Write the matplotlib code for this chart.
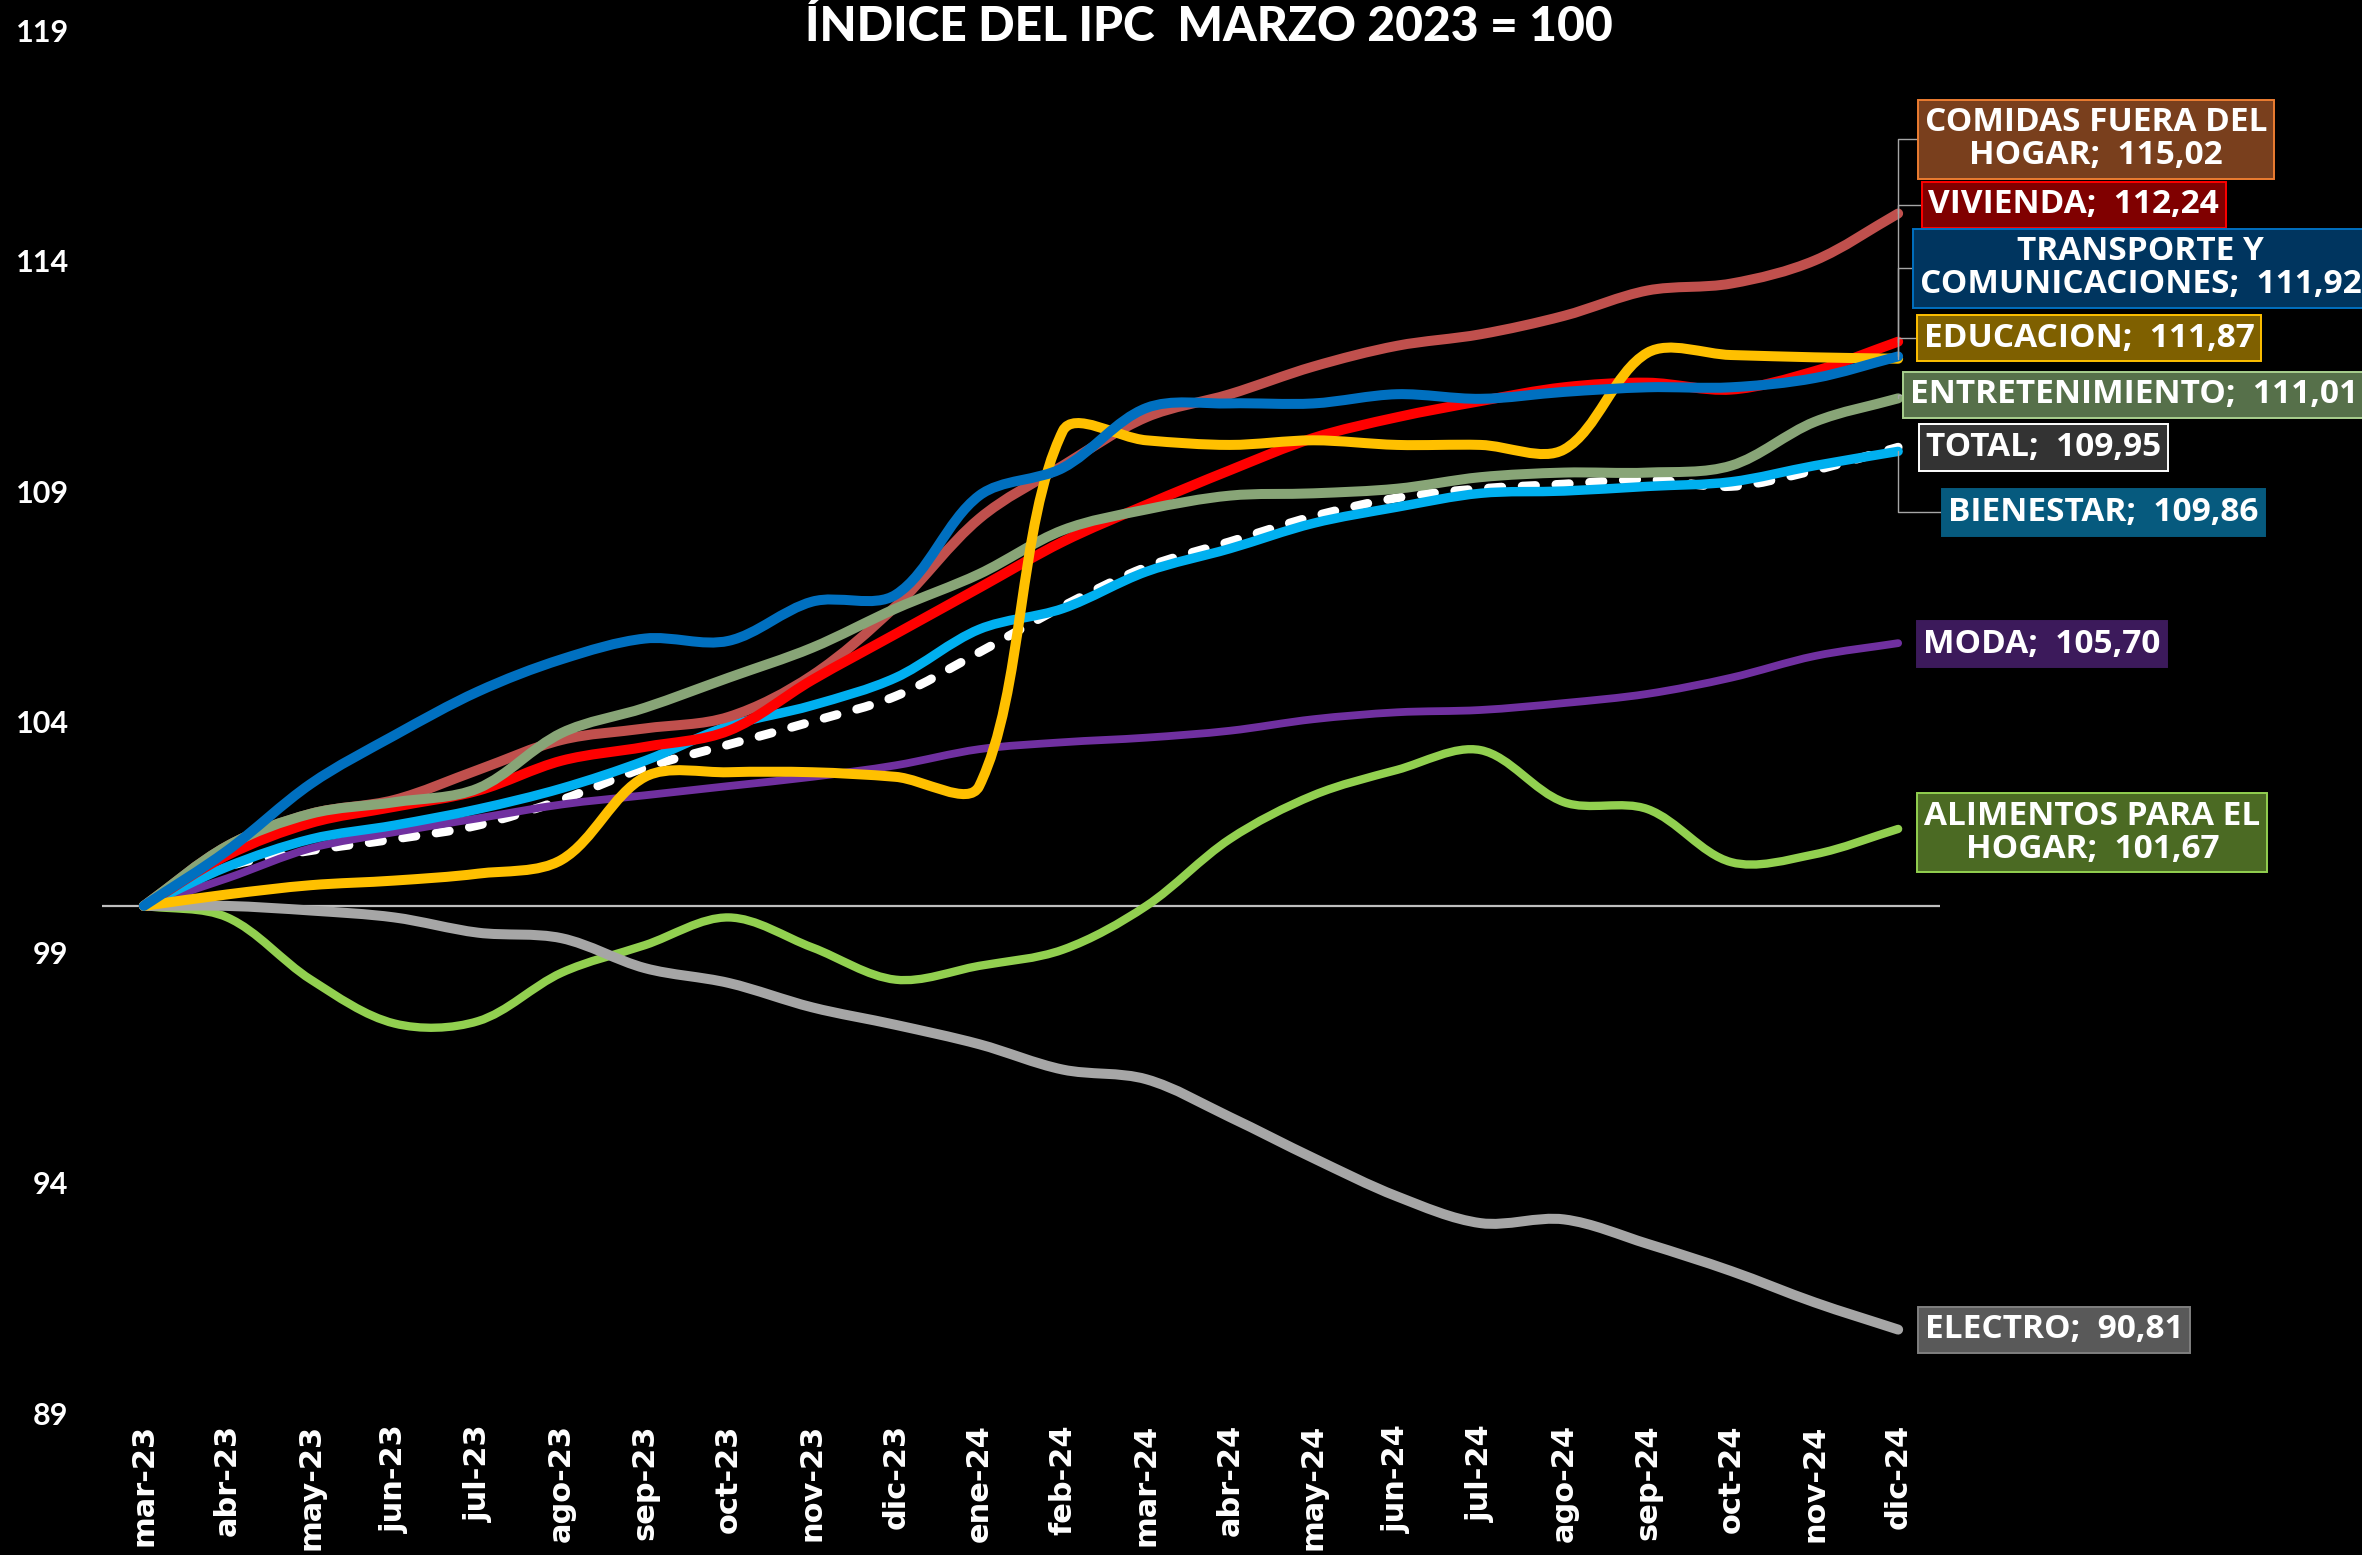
import matplotlib
matplotlib.use("Agg")
import matplotlib.pyplot as plt
from matplotlib.path import Path
from matplotlib.patches import PathPatch
import numpy as np

#-- Datos (indice, marzo 2023 = 100)
meses = ['mar-23', 'abr-23', 'may-23', 'jun-23', 'jul-23', 'ago-23', 'sep-23',
         'oct-23', 'nov-23', 'dic-23', 'ene-24', 'feb-24', 'mar-24', 'abr-24',
         'may-24', 'jun-24', 'jul-24', 'ago-24', 'sep-24', 'oct-24', 'nov-24',
         'dic-24']

comidas = [100, 101.3, 102.0, 102.3, 102.95, 103.6, 103.85, 104.1, 105.0, 106.5,
           108.4, 109.55, 110.6, 111.1, 111.7, 112.15, 112.4, 112.8, 113.35,
           113.5, 114.0, 115.02]
vivienda = [100, 101.1, 101.8, 102.15, 102.5, 103.15, 103.45, 103.8, 104.9, 105.9,
            106.9, 107.9, 108.7, 109.45, 110.15, 110.6, 110.95, 111.25, 111.35,
            111.2, 111.6, 112.24]
transporte = [100, 101.2, 102.65, 103.7, 104.65, 105.35, 105.8, 105.75, 106.6,
              106.75, 108.9, 109.5, 110.8, 110.9, 110.9, 111.1, 111.0, 111.15,
              111.25, 111.25, 111.45, 111.92]
educacion = [100, 100.25, 100.45, 100.55, 100.7, 101.0, 102.8, 102.9, 102.9, 102.8,
             102.6, 110.3, 110.1, 110.0, 110.1, 110.0, 110.0, 109.9, 112.0,
             111.95, 111.9, 111.87]
entretenimiento = [100, 101.3, 102.0, 102.25, 102.55, 103.75, 104.3, 104.95, 105.6,
                   106.45, 107.2, 108.15, 108.6, 108.9, 108.95, 109.05, 109.3,
                   109.4, 109.4, 109.55, 110.5, 111.01]
total = [100, 100.85, 101.2, 101.45, 101.75, 102.3, 103.0, 103.5, 104.0, 104.55,
         105.5, 106.5, 107.35, 107.9, 108.45, 108.85, 109.05, 109.15, 109.25,
         109.1, 109.45, 109.95]
bienestar = [100, 100.85, 101.45, 101.75, 102.1, 102.55, 103.15, 103.9, 104.35,
             104.95, 106.0, 106.45, 107.25, 107.75, 108.3, 108.65, 108.95, 109.0,
             109.1, 109.2, 109.55, 109.86]
moda = [100, 100.6, 101.25, 101.6, 101.9, 102.2, 102.4, 102.6, 102.8, 103.05,
        103.4, 103.55, 103.65, 103.8, 104.05, 104.2, 104.25, 104.4, 104.6, 104.95,
        105.42, 105.70]
alimentos = [100, 99.75, 98.4, 97.45, 97.5, 98.55, 99.15, 99.75, 99.1, 98.4, 98.7,
             99.05, 100.0, 101.45, 102.4, 102.95, 103.38, 102.25, 102.1, 100.95,
             101.12, 101.67]
electro = [100, 100.0, 99.9, 99.75, 99.42, 99.3, 98.65, 98.33, 97.8, 97.42, 97.0,
           96.45, 96.24, 95.42, 94.53, 93.7, 93.12, 93.2, 92.67, 92.08, 91.4, 90.81]

#-- Series en orden de dibujo: (valores, color linea, grosor, estilo)
series = [
    (total, 'white', 3.2, (0, (1.5, 2.3))),
    (alimentos, '#92D050', 3.0, '-'),
    (electro, '#A6A6A6', 3.6, '-'),
    (moda, '#7030A0', 2.8, '-'),
    (bienestar, '#00B0F0', 3.4, '-'),
    (comidas, '#C0504D', 3.6, '-'),
    (vivienda, '#FF0000', 3.6, '-'),
    (entretenimiento, '#88A577', 3.6, '-'),
    (educacion, '#FFC000', 3.6, '-'),
    (transporte, '#0070C0', 3.6, '-'),
]

#-- Etiquetas: (texto, valor final, centro x, centro y [fig], fondo, borde, guia)
etiquetas = [
    ('COMIDAS FUERA DEL\nHOGAR;  115,02', comidas[-1], 0.8874, 0.9104, '#793F1D', '#ED7D31', True),
    ('VIVIENDA;  112,24', vivienda[-1], 0.8779, 0.8682, '#800000', '#FF0000', True),
    ('TRANSPORTE Y\nCOMUNICACIONES;  111,92', transporte[-1], 0.9063, 0.8275, '#00355F', '#0070C0', True),
    ('EDUCACION;  111,87', educacion[-1], 0.8846, 0.7825, '#7F6000', '#FFC000', True),
    ('ENTRETENIMIENTO;  111,01', entretenimiento[-1], 0.9034, 0.7461, '#56704A', '#A9D08E', True),
    ('TOTAL;  109,95', total[-1], 0.8651, 0.7122, '#333333', '#FFFFFF', False),
    ('BIENESTAR;  109,86', bienestar[-1], 0.8906, 0.6705, '#065A7E', '#065A7E', True),
    ('MODA;  105,70', moda[-1], 0.8645, 0.5858, '#3C1A5B', '#3C1A5B', False),
    ('ALIMENTOS PARA EL\nHOGAR;  101,67', alimentos[-1], 0.8858, 0.4646, '#4B6A23', '#92D050', False),
    ('ELECTRO;  90,81', electro[-1], 0.8696, 0.1448, '#595959', '#808080', False),
]

plt.rcParams['font.family'] = ['Lato', 'DejaVu Sans']

fig = plt.figure(figsize=(11.81, 7.775), dpi=200, facecolor='black')
ax = fig.add_axes([0.0432, 0.0913, 0.7781, 0.8894], facecolor='black')
ax.set_xlim(-0.5, len(meses) - 0.5)
ax.set_ylim(89, 119)


def curva_suave(ax, valores):
    #-- curva tipo Excel "linea suavizada", calculada en pixeles
    x = np.arange(len(valores))
    p = ax.transData.transform(np.column_stack([x, valores]))
    n = len(p)
    verts = [p[0]]
    codes = [Path.MOVETO]
    for i in range(n - 1):
        p0, p1 = p[max(i - 1, 0)], p[i]
        p2, p3 = p[i + 1], p[min(i + 2, n - 1)]
        d01 = np.hypot(*(p1 - p0))
        d12 = np.hypot(*(p2 - p1))
        d23 = np.hypot(*(p3 - p2))
        c1 = p1 + (p2 - p0) * d12 / (d01 + d12) / 3.0
        c2 = p2 - (p3 - p1) * d12 / (d12 + d23) / 3.0
        verts += [c1, c2, p2]
        codes += [Path.CURVE4] * 3
    verts = ax.transData.inverted().transform(np.array(verts))
    return Path(verts, codes)


ax.axhline(100, color='#BFBFBF', lw=0.8, zorder=1)

for k, (valores, color, lw, estilo) in enumerate(series):
    patch = PathPatch(curva_suave(ax, valores), fill=False, edgecolor=color,
                      lw=lw, linestyle=estilo, capstyle='round',
                      joinstyle='round', zorder=2 + k)
    ax.add_patch(patch)

#-- Ejes
ax.set_xticks(range(len(meses)))
ax.set_xticklabels(meses, rotation=90, fontsize=11, fontweight='bold',
                   family='DejaVu Sans', color='white')
ax.set_yticks(range(89, 120, 5))
ax.set_yticklabels([str(v) for v in range(89, 120, 5)], fontsize=11,
                   fontweight='bold', color='white')
ax.tick_params(axis='x', length=0, pad=4)
ax.tick_params(axis='y', length=0, pad=12)
for s in ax.spines.values():
    s.set_visible(False)

#-- Etiquetas de datos
for texto, valor, fx, fy, fondo, borde, guia in etiquetas:
    arrow = None
    if guia:
        arrow = dict(arrowstyle='-', color='#A6A6A6', lw=0.5, shrinkA=0,
                     shrinkB=0, connectionstyle='angle,angleA=0,angleB=90,rad=0')
    ax.annotate(texto, xy=(len(meses) - 1, valor), xytext=(fx, fy),
                textcoords='figure fraction', ha='center', va='center',
                multialignment='center', fontsize=12, fontweight='bold',
                family=['Open Sans', 'DejaVu Sans'], linespacing=1.0,
                color='white', annotation_clip=False, zorder=20,
                bbox=dict(boxstyle='square,pad=0.2', fc=fondo, ec=borde, lw=0.7),
                arrowprops=arrow)

fig.text(0.512, 0.9826, 'ÍNDICE DEL IPC  MARZO 2023 = 100', ha='center',
         va='center', fontsize=17.3, fontweight='black', color='white')

fig.savefig('out.png', dpi=200, facecolor='black')
